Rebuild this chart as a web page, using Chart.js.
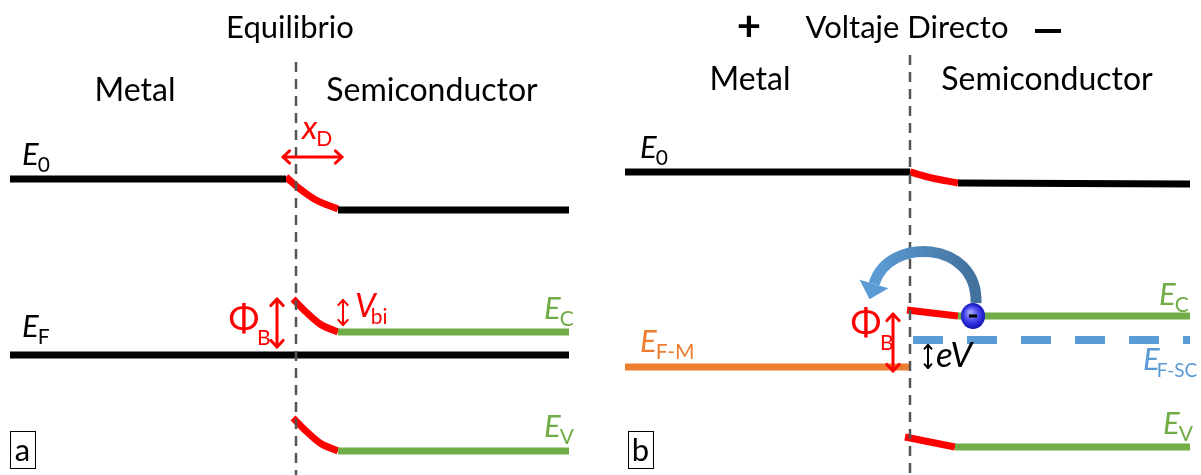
<!DOCTYPE html>
<html>
<head>
<meta charset="utf-8">
<script src="https://cdn.jsdelivr.net/npm/chart.js@4.4.1/dist/chart.umd.min.js"></script>
<style>
  html, body { margin: 0; padding: 0; background: #ffffff; }
  #wrap { width: 1201px; height: 475px; }
</style>
</head>
<body>
<div id="wrap"><canvas id="c" width="1201" height="475"></canvas></div>
<script>
// Metal–semiconductor (Schottky) band diagrams.
// x: position along the junction, y: electron energy (drawn downward).

// ---- (a) Equilibrium ----
const eqInterface   = [[296, 62], [296, 475]];
const eqE0Metal     = [[10, 179], [286, 179]];
const eqE0Bend      = [[286, 177], [300, 189], [316, 200], [338, 209]];
const eqE0Semi      = [[338, 210], [569, 210]];
const eqEF          = [[10, 355], [569, 355]];
const eqECBend      = [[293, 299], [306, 312], [320, 324], [338, 332]];
const eqEC          = [[338, 332], [569, 332]];
const eqEVBend      = [[293, 418], [306, 431], [320, 443], [338, 451]];
const eqEV          = [[338, 451], [569, 451]];

// ---- (b) Forward bias ----
const fwInterface   = [[910, 55], [910, 475]];
const fwE0Metal     = [[625, 172], [910, 172]];
const fwE0Bend      = [[910, 172], [932, 178], [958, 183]];
const fwE0Semi      = [[958, 183], [1190, 184]];
const fwEFM         = [[625, 367], [910, 367]];
const fwECBend      = [[907, 310], [932, 313], [958, 316]];
const fwEC          = [[958, 316], [1190, 316]];
const fwEFSC        = [[913, 340], [1190, 340]];
const fwEVBend      = [[905, 437], [930, 442], [955, 447]];
const fwEV          = [[955, 447], [1190, 447]];

// Double-headed markers: [x1, y1, x2, y2]
const arrowXD   = [283, 157, 342, 157];
const arrowPhiA = [277, 299, 277, 347];
const arrowVbi  = [343, 300, 343, 325];
const arrowPhiB = [893, 314, 893, 371];
const arrowEV   = [928, 345, 928, 368];

// Electron sitting on the conduction band edge and its path over the barrier
const electron  = [973, 316];
const hopPath   = [[976, 303], [978, 240], [888, 236], [874, 284]];

// Text
const titleA = 'Equilibrio';
const titleB = 'Voltaje Directo';
const sideLabels = ['Metal', 'Semiconductor'];
const panelTags = ['a', 'b'];

const pts = arr => arr.map(p => ({ x: p[0], y: p[1] }));

const RED = '#ff0000', BLACK = '#000000', GREEN = '#70ad47',
      ORANGE = '#ed7d31', BLUE = '#5b9bd5', GRAY = '#555555';

function seg(data, color, width, extra) {
  return Object.assign({
    data: pts(data), borderColor: color, borderWidth: width,
    showLine: true, pointRadius: 0, fill: false, tension: 0,
    borderCapStyle: 'butt'
  }, extra || {});
}
const curve = { cubicInterpolationMode: 'monotone' };
const dash = { borderDash: [10, 7] };

const datasets = [
  seg(eqInterface, GRAY, 2.5, dash),
  seg(fwInterface, GRAY, 2.5, dash),
  seg(eqE0Metal, BLACK, 7), seg(eqE0Semi, BLACK, 7),
  seg(eqEF, BLACK, 7),
  seg(eqEC, GREEN, 7), seg(eqEV, GREEN, 7),
  seg(eqE0Bend, RED, 7, curve), seg(eqECBend, RED, 7, curve), seg(eqEVBend, RED, 7, curve),
  seg(fwE0Metal, BLACK, 7), seg(fwE0Semi, BLACK, 7),
  seg(fwEFM, ORANGE, 7),
  seg(fwEC, GREEN, 7), seg(fwEV, GREEN, 7),
  seg(fwEFSC, BLUE, 8, { borderDash: [30, 24] }),
  seg(fwE0Bend, RED, 7, curve), seg(fwECBend, RED, 7, curve), seg(fwEVBend, RED, 7, curve)
];

const FONT = 'Lato, "Open Sans", sans-serif';

const annotate = {
  id: 'annotate',
  afterDatasetsDraw(chart) {
    const ctx = chart.ctx;
    const xs = chart.scales.x, ys = chart.scales.y;
    const X = v => xs.getPixelForValue(v), Y = v => ys.getPixelForValue(v);

    function text(str, x, y, size, color, opts) {
      opts = opts || {};
      ctx.save();
      ctx.font = (opts.bold ? 'bold ' : '') + (opts.italic ? 'italic ' : '') + size + 'px ' + FONT;
      ctx.fillStyle = color;
      ctx.textAlign = opts.align || 'left';
      ctx.textBaseline = 'alphabetic';
      ctx.fillText(str, X(x), Y(y));
      ctx.restore();
    }
    function sym(main, sub, x, y, color, size, subSize, shift) {
      ctx.save();
      ctx.font = 'italic ' + size + 'px ' + FONT;
      const w = ctx.measureText(main).width;
      ctx.restore();
      text(main, x, y, size, color, { italic: true });
      text(sub, x + w + (shift || -1), y + 7, subSize, color);
    }
    function dblArrow(a, color, width, head) {
      const x1 = X(a[0]), y1 = Y(a[1]), x2 = X(a[2]), y2 = Y(a[3]);
      const ang = Math.atan2(y2 - y1, x2 - x1);
      ctx.save();
      ctx.strokeStyle = color; ctx.lineWidth = width; ctx.lineCap = 'round'; ctx.lineJoin = 'round';
      ctx.beginPath(); ctx.moveTo(x1, y1); ctx.lineTo(x2, y2); ctx.stroke();
      [[x1, y1, ang + Math.PI], [x2, y2, ang]].forEach(([px, py, a]) => {
        ctx.beginPath();
        ctx.moveTo(px - head * Math.cos(a - 0.75), py - head * Math.sin(a - 0.75));
        ctx.lineTo(px, py);
        ctx.lineTo(px - head * Math.cos(a + 0.75), py - head * Math.sin(a + 0.75));
        ctx.stroke();
      });
      ctx.restore();
    }

    // Titles and region names
    text(titleA, 290, 38, 31, BLACK, { align: 'center' });
    text(sideLabels[0], 135, 101, 32, BLACK, { align: 'center' });
    text(sideLabels[1], 432, 101, 32, BLACK, { align: 'center' });

    text('+', 749, 41, 42, BLACK, { align: 'center', bold: true });
    text(titleB, 907, 38, 31, BLACK, { align: 'center' });
    ctx.save(); ctx.fillStyle = BLACK; ctx.fillRect(X(1035), Y(29), X(1061) - X(1035), 4); ctx.restore();
    text(sideLabels[0], 750, 90, 32, BLACK, { align: 'center' });
    text(sideLabels[1], 1047, 90, 32, BLACK, { align: 'center' });

    // Energy labels, panel (a)
    sym('E', '0', 22, 165, BLACK, 31, 21);
    sym('E', 'F', 22, 337, BLACK, 31, 21);
    sym('E', 'C', 544, 319, GREEN, 31, 21);
    sym('E', 'V', 544, 437, GREEN, 31, 21);
    sym('x', 'D', 302, 139, RED, 33, 21);
    text('\u03A6', 244, 331, 37, RED, { align: 'center' });
    text('B', 257, 345, 21, RED);
    sym('V', 'bi', 355, 317, RED, 33, 21, -5);

    // Energy labels, panel (b)
    sym('E', '0', 640, 158, BLACK, 31, 21);
    sym('E', 'C', 1159, 305, GREEN, 31, 21);
    sym('E', 'V', 1163, 434, GREEN, 31, 21);
    sym('E', 'F-M', 640, 352, ORANGE, 31, 21);
    sym('E', 'F-SC', 1143, 370, BLUE, 31, 19, -3);
    text('\u03A6', 866, 335, 37, RED, { align: 'center' });
    text('B', 880, 350, 21, RED);
    text('eV', 936, 367, 35, BLACK, { italic: true });

    dblArrow(arrowXD, RED, 3, 9);
    dblArrow(arrowPhiA, RED, 3, 9);
    dblArrow(arrowVbi, RED, 2, 7);
    dblArrow(arrowPhiB, RED, 3, 9);
    dblArrow(arrowEV, BLACK, 2, 5);

    // Curved hop arrow over the barrier
    ctx.save();
    const p = hopPath.map(q => [X(q[0]), Y(q[1])]);
    const g = ctx.createLinearGradient(p[3][0], 0, p[0][0], 0);
    g.addColorStop(0, '#5b9bd5'); g.addColorStop(1, '#41719c');
    ctx.strokeStyle = g; ctx.lineWidth = 11; ctx.lineCap = 'butt';
    ctx.beginPath(); ctx.moveTo(p[0][0], p[0][1]);
    ctx.bezierCurveTo(p[1][0], p[1][1], p[2][0], p[2][1], p[3][0], p[3][1]);
    ctx.stroke();
    // head
    const ang = Math.atan2(p[3][1] - p[2][1], p[3][0] - p[2][0]);
    const hx = p[3][0] + 16 * Math.cos(ang), hy = p[3][1] + 16 * Math.sin(ang);
    ctx.fillStyle = '#5b9bd5';
    ctx.beginPath();
    ctx.moveTo(hx, hy);
    ctx.lineTo(p[3][0] + 15 * Math.cos(ang + Math.PI / 2), p[3][1] + 15 * Math.sin(ang + Math.PI / 2));
    ctx.lineTo(p[3][0] + 15 * Math.cos(ang - Math.PI / 2), p[3][1] + 15 * Math.sin(ang - Math.PI / 2));
    ctx.closePath(); ctx.fill();
    ctx.restore();

    // Electron
    ctx.save();
    const ex = X(electron[0]), ey = Y(electron[1]);
    const rg = ctx.createRadialGradient(ex - 3, ey - 4, 1, ex, ey, 13);
    rg.addColorStop(0, '#a0a0ff'); rg.addColorStop(0.6, '#3a3ae8'); rg.addColorStop(1, '#1010b0');
    ctx.fillStyle = rg;
    ctx.beginPath(); ctx.ellipse(ex, ey, 12, 13, 0, 0, Math.PI * 2); ctx.fill();
    ctx.fillStyle = '#000';
    ctx.fillRect(ex - 4, ey - 1.5, 8, 3);
    ctx.restore();

    // Panel tags
    [[panelTags[0], 10], [panelTags[1], 628]].forEach(([t, bx]) => {
      ctx.save();
      ctx.strokeStyle = '#000'; ctx.lineWidth = 1;
      ctx.strokeRect(X(bx) + 0.5, Y(431) + 0.5, 25, 37);
      ctx.restore();
      text(t, bx + 12.5, 461, 31, BLACK, { align: 'center' });
    });
  }
};

new Chart(document.getElementById('c'), {
  type: 'scatter',
  data: { datasets },
  options: {
    responsive: false,
    animation: false,
    events: [],
    layout: { padding: 0 },
    plugins: { legend: { display: false }, tooltip: { enabled: false } },
    scales: {
      x: { type: 'linear', min: 0, max: 1201, display: false },
      y: { type: 'linear', min: 0, max: 475, reverse: true, display: false }
    }
  },
  plugins: [annotate]
});
</script>
</body>
</html>
